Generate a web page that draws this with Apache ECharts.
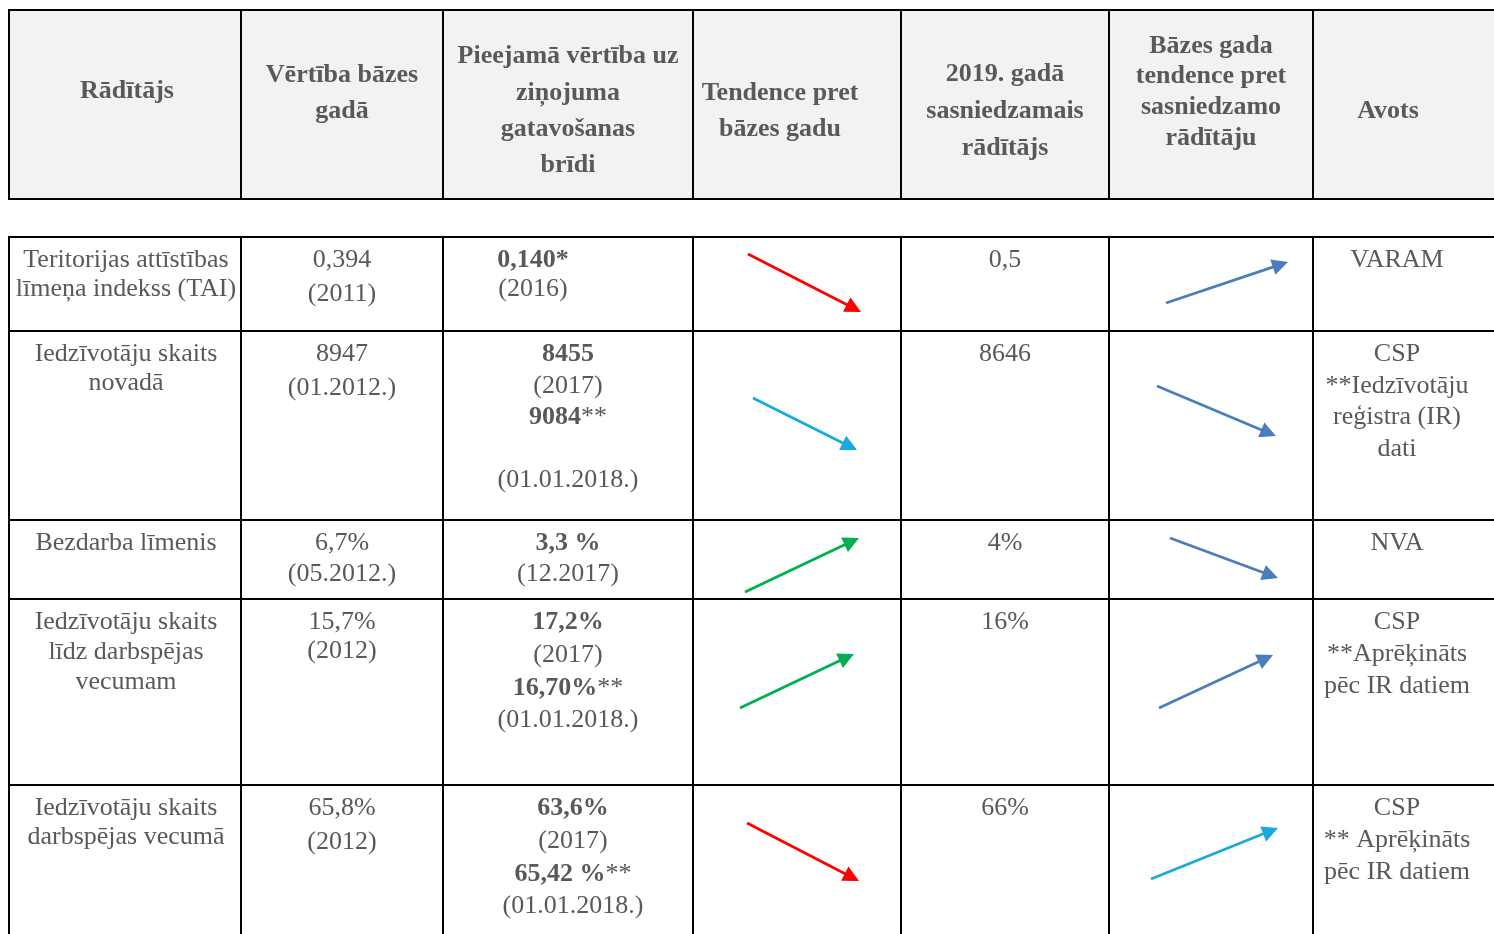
<!DOCTYPE html>
<html><head><meta charset="utf-8">
<script src="https://cdn.jsdelivr.net/npm/echarts@6/dist/echarts.min.js"></script>
<style>html,body{margin:0;padding:0;background:#fff}#c{width:1494px;height:934px}</style>
</head><body><div id="c"></div>
<script>
// ---------- DATA ----------
const headers = ['Rādītājs', 'Vērtība bāzes\ngadā', 'Pieejamā vērtība uz\nziņojuma\ngatavošanas\nbrīdi', 'Tendence pret\nbāzes gadu', '2019. gadā\nsasniedzamais\nrādītājs', 'Bāzes gada\ntendence pret\nsasniedzamo\nrādītāju', 'Avots'];
const indicators = ['Teritorijas attīstības\nlīmeņa indekss (TAI)', 'Iedzīvotāju skaits\nnovadā', 'Bezdarba līmenis', 'Iedzīvotāju skaits\nlīdz darbspējas\nvecumam', 'Iedzīvotāju skaits\ndarbspējas vecumā'];
const baseValues = ['0,394\n(2011)', '8947\n(01.2012.)', '6,7%\n(05.2012.)', '15,7%\n(2012)', '65,8%\n(2012)'];
const currentValues = ['{b|0,140*}\n(2016)', '{b|8455}\n(2017)\n{b|9084}**\n\n(01.01.2018.)', '{b|3,3 %}\n(12.2017)', '{b|17,2%}\n(2017)\n{b|16,70%}**\n(01.01.2018.)', '{b|63,6%}\n(2017)\n{b|65,42 %}**\n(01.01.2018.)'];
const targets = ['0,5', '8646', '4%', '16%', '66%'];
const sources = ['VARAM', 'CSP\n**Iedzīvotāju\nreģistra (IR)\ndati', 'NVA', 'CSP\n**Aprēķināts\npēc IR datiem', 'CSP\n** Aprēķināts\npēc IR datiem'];
// arrows: [x1, y1, x2, y2] in table units
const trendArrows = [[748, 254, 861, 312], [753, 398, 857, 450], [745, 592, 859, 538], [740, 708, 854, 654], [747, 823, 859, 881]];
const trendColors = ['#ff0000', '#1aa8e0', '#00b050', '#00b050', '#ff0000'];
const targetArrows = [[1166, 303, 1288, 262], [1157, 386, 1276, 436], [1170, 538, 1278, 578], [1159, 708, 1273, 655], [1151, 879, 1278, 828]];
const targetColors = ['#4a7ebb', '#4a7ebb', '#4a7ebb', '#4a7ebb', '#1aa8e0'];

// ---------- LAYOUT ----------
const W = 1494, H = 934;
const colEdges = [9, 241, 443, 693, 901, 1109, 1313, 1494];
const headTop = 10, headBottom = 199;
const rowEdges = [237, 331, 520, 599, 785, 934];
const headCenterX = [127, 342, 568, 780, 1005, 1211, 1388];
const headCenterY = [91, 93, 111, 111, 111, 92, 111];
const headLH = [36, 36, 36.3, 36, 37, 30.7, 36];
const bodyCenterX = [126, 342, 568, 0, 1005, 0, 1397];
const bodyShiftX = {'0,2': -35, '4,2': 5};
const firstLineOffset = 23.5;
const bodyLH = [
  [29, 34, 29, 0, 30, 0, 30],
  [29, 34, 31.3, 0, 30, 0, 31.5],
  [30, 31, 31, 0, 30, 0, 30],
  [30, 29, 32.7, 0, 30, 0, 32],
  [29, 34, 32.7, 0, 30, 0, 32]
];
const FONT = 'Liberation Serif';
const TXT = '#595959';

// ---------- build cells ----------
const cells = [];
headers.forEach((t, c) => cells.push({x: headCenterX[c], y: headCenterY[c], text: '{h|' + t.split('\n').join('}\n{h|') + '}', lh: headLH[c], va: 'middle', bold: true}));
const bodyCols = [[0, indicators], [1, baseValues], [2, currentValues], [4, targets], [6, sources]];
for (let r = 0; r < 5; r++) {
  bodyCols.forEach(([c, arr]) => {
    const lh = bodyLH[r][c];
    const shift = bodyShiftX[r + ',' + c] || 0;
    cells.push({x: bodyCenterX[c] + shift, y: rowEdges[r] + firstLineOffset - lh / 2, text: arr[r], lh: lh, va: 'top', bold: false});
  });
}
const arrows = trendArrows.map((a, i) => ({a, color: trendColors[i]}))
  .concat(targetArrows.map((a, i) => ({a, color: targetColors[i]})));

const chart = echarts.init(document.getElementById('c'), null, {renderer: 'canvas'});
const option = {
  animation: false,
  grid: {left: 0, right: 0, top: 0, bottom: 0},
  xAxis: {type: 'value', min: 0, max: W, show: false},
  yAxis: {type: 'value', min: 0, max: H, inverse: true, show: false},
  series: [
    {
      type: 'custom', clip: false, silent: true, z: 1,
      data: [[0, 0]],
      renderItem: function (params, api) {
        const ch = [];
        const tl = api.coord([colEdges[0], headTop]);
        const br = api.coord([W, headBottom]);
        ch.push({type: 'rect', shape: {x: tl[0], y: tl[1], width: br[0] - tl[0], height: br[1] - tl[1]}, style: {fill: '#f2f2f2'}});
        const ls = {stroke: '#000', lineWidth: 2};
        const hline = (y, x0, x1) => { const p = api.coord([x0, y]), q = api.coord([x1, y]); ch.push({type: 'line', shape: {x1: p[0], y1: p[1], x2: q[0], y2: q[1]}, style: ls}); };
        const vline = (x, y0, y1) => { const p = api.coord([x, y0]), q = api.coord([x, y1]); ch.push({type: 'line', shape: {x1: p[0], y1: p[1], x2: q[0], y2: q[1]}, style: ls}); };
        hline(headTop, colEdges[0] - 1, W);
        hline(headBottom, colEdges[0] - 1, W);
        for (let i = 0; i < colEdges.length - 1; i++) vline(colEdges[i], headTop, headBottom);
        for (let r = 0; r < rowEdges.length - 1; r++) hline(rowEdges[r], colEdges[0] - 1, W);
        for (let i = 0; i < colEdges.length - 1; i++) vline(colEdges[i], rowEdges[0], H);
        return {type: 'group', children: ch};
      }
    },
    {
      type: 'custom', clip: false, silent: true, z: 3,
      data: cells.map(c => [c.x, c.y]),
      renderItem: function (params, api) {
        const c = cells[params.dataIndex];
        const p = api.coord([api.value(0), api.value(1)]);
        const base = {fill: TXT, fontFamily: FONT, fontSize: 26, lineHeight: c.lh};
        return {
          type: 'text', x: p[0], y: p[1],
          style: Object.assign({}, base, {
            text: c.text, align: 'center', verticalAlign: c.va, fontWeight: c.bold ? 'bold' : 'normal',
            rich: {
              b: Object.assign({}, base, {fontWeight: 'bold'}),
              h: Object.assign({}, base, {fontWeight: 'bold'})
            }
          })
        };
      }
    },
    {
      type: 'custom', clip: false, silent: true, z: 4,
      data: arrows.map(o => o.a),
      encode: {x: [0, 2], y: [1, 3]},
      renderItem: function (params, api) {
        const color = arrows[params.dataIndex].color;
        const p1 = api.coord([api.value(0), api.value(1)]);
        const p2 = api.coord([api.value(2), api.value(3)]);
        const dx = p2[0] - p1[0], dy = p2[1] - p1[1], L = Math.hypot(dx, dy);
        const ux = dx / L, uy = dy / L;
        const hl = 16, hw = 8;
        const bx = p2[0] - ux * hl, by = p2[1] - uy * hl;
        return {type: 'group', children: [
          {type: 'line', shape: {x1: p1[0], y1: p1[1], x2: bx + ux * 3, y2: by + uy * 3}, style: {stroke: color, lineWidth: 2.75}},
          {type: 'polygon', shape: {points: [[p2[0], p2[1]], [bx - uy * hw, by + ux * hw], [bx + uy * hw, by - ux * hw]]}, style: {fill: color}}
        ]};
      }
    }
  ]
};
chart.setOption(option);
</script>
</body></html>
